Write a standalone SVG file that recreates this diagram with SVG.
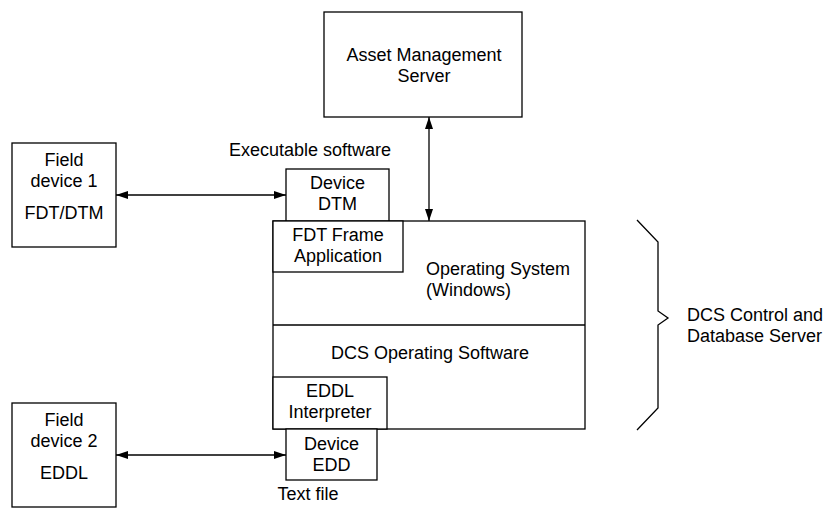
<svg xmlns="http://www.w3.org/2000/svg" width="824" height="513" viewBox="0 0 824 513">
<style>
.b{fill:#fff;stroke:#000;stroke-width:1.3}
.t{font-family:"Liberation Sans",Arial,sans-serif;font-size:18px;fill:#000}
.c{text-anchor:middle}
.l{stroke:#000;stroke-width:1.3;fill:none}
</style>
<defs>
<marker id="ah" viewBox="0 0 12 8" refX="12" refY="4" markerWidth="12" markerHeight="8" markerUnits="userSpaceOnUse" orient="auto-start-reverse">
<path d="M0,0 L12,4 L0,8 Z" fill="#000"/>
</marker>
</defs>
<rect width="824" height="513" fill="#fff"/>
<g id="asset-server">
<rect class="b" x="324" y="12" width="198" height="105"/>
<text class="t c" x="424" y="61">Asset Management</text>
<text class="t c" x="424" y="82">Server</text>
</g>
<g id="field-device-1">
<rect class="b" x="12" y="143" width="104" height="104"/>
<text class="t c" x="64" y="166">Field</text>
<text class="t c" x="64" y="187">device 1</text>
<text class="t c" x="64" y="219">FDT/DTM</text>
</g>
<g id="field-device-2">
<rect class="b" x="12" y="403" width="104" height="104"/>
<text class="t c" x="64" y="426">Field</text>
<text class="t c" x="64" y="447">device 2</text>
<text class="t c" x="64" y="479">EDDL</text>
</g>
<g id="dcs-server">
<rect class="b" x="273" y="221" width="312" height="208"/>
<line class="l" x1="273" y1="325" x2="585" y2="325"/>
<text class="t" x="426" y="275">Operating System</text>
<text class="t" x="426" y="296">(Windows)</text>
<text class="t c" x="430" y="359">DCS Operating Software</text>
</g>
<g id="device-dtm">
<rect class="b" x="286" y="169" width="103" height="52"/>
<text class="t c" x="337.5" y="189">Device</text>
<text class="t c" x="337.5" y="210">DTM</text>
</g>
<g id="fdt-frame">
<rect class="b" x="273" y="221" width="130" height="51"/>
<text class="t c" x="338" y="241">FDT Frame</text>
<text class="t c" x="338" y="262">Application</text>
</g>
<g id="eddl-interpreter">
<rect class="b" x="273" y="377" width="114" height="52"/>
<text class="t c" x="330" y="397">EDDL</text>
<text class="t c" x="330" y="418">Interpreter</text>
</g>
<g id="device-edd">
<rect class="b" x="286" y="429" width="91" height="51"/>
<text class="t c" x="331.5" y="450">Device</text>
<text class="t c" x="331.5" y="471">EDD</text>
</g>
<g id="labels">
<text class="t c" x="310" y="156">Executable software</text>
<text class="t c" x="308" y="500">Text file</text>
</g>
<g id="brace">
<path class="l" d="M637,220 L658,242 L658,311 L668,318 L658,325 L658,408 L637,430"/>
<text class="t" x="687" y="321">DCS Control and</text>
<text class="t" x="687" y="342">Database Server</text>
</g>
<g id="connectors">
<line class="l" x1="116" y1="195" x2="286" y2="195" marker-start="url(#ah)" marker-end="url(#ah)"/>
<line class="l" x1="116" y1="455" x2="286" y2="455" marker-start="url(#ah)" marker-end="url(#ah)"/>
<line class="l" x1="429" y1="117" x2="429" y2="221" marker-start="url(#ah)" marker-end="url(#ah)"/>
</g>
</svg>
